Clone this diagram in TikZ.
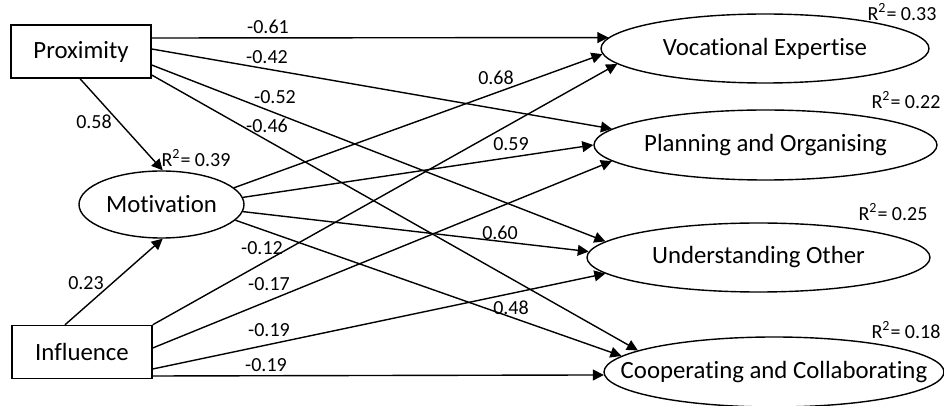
\documentclass[tikz,border=0pt]{standalone}
\usepackage{fontspec}
\setmainfont{Carlito}[Ligatures=NoCommon]
\usetikzlibrary{arrows.meta,shapes.geometric}

\begin{document}
\begin{tikzpicture}[x=0.5pt,y=-0.5pt,line width=0.7pt,
	box/.style={draw,rectangle,minimum width=70pt,minimum height=26.5pt,inner sep=0pt,font=\fontsize{12.4}{14}\selectfont},
	latent/.style={draw,ellipse,inner sep=0pt,font=\fontsize{12.4}{14}\selectfont},
	coef/.style={inner sep=0pt,font=\fontsize{10}{12}\selectfont},
	path/.style={-{Triangle[length=5.5pt,width=5.4pt]}}]
	\useasboundingbox (0,0) rectangle (944,406);
	% exogenous and mediator
	\node[box] (prox) at (81,51.5) {Proximity};
	\node[box] (infl) at (82,352) {Influence};
	\node[latent,minimum width=82.5pt,minimum height=33.5pt] (mot) at (161.5,204.5) {\makebox[0pt]{Motivation}};
	% outcomes
	\node[latent,minimum width=164pt,minimum height=34.5pt] (voc) at (765,48.5) {\makebox[0pt]{Vocational Expertise}};
	\node[latent,minimum width=171.5pt,minimum height=35pt] (plan) at (765.5,145) {\makebox[0pt]{Planning and Organising}};
	\node[latent,minimum width=171.5pt,minimum height=34.5pt] (und) at (758.5,257.5) {\makebox[0pt]{Understanding Other}};
	\node[latent,minimum width=170pt,minimum height=35pt] (coop) at (774,372) {\makebox[0pt]{Cooperating and Collaborating}};
	% paths
	\draw[path] ([shift={(0,-13.5)}]prox.east) -- (voc.176);
	\draw[path] ([shift={(0,-2.5)}]prox.east) -- (plan.174);
	\draw[path] ([shift={(0,13.5)}]prox.east) -- (und.174);
	\draw[path] ([shift={(0,23.5)}]prox.east) -- (coop.171.5);
	\draw[path] ([shift={(-1,0)}]prox.south) -- (mot.88);
	\draw[path] ([shift={(-17,0)}]infl.north) -- (mot.272);
	\draw[path] (mot.13) -- (voc.182);
	\draw[path] (mot.5) -- (plan.180);
	\draw[path] (mot.355) -- (und.178.5);
	\draw[path] (mot.348) -- (coop.174.8);
	\draw[path] (infl.north east) -- (voc.186.4);
	\draw[path] ([shift={(0,-4)}]infl.east) -- (plan.186);
	\draw[path] ([shift={(0,17)}]infl.east) -- (und.186.2);
	\draw[path] ([shift={(0,24)}]infl.east) -- (coop.181.3);
	% coefficients
	\node[coef] (c1) at (268,27) {-0.61};
	\node[coef] (c2) at (267,57) {-0.42};
	\node[coef] (c3) at (275,97) {-0.52};
	\node[coef] (c4) at (267,126) {-0.46};
	\node[coef] (c5) at (94,122) {0.58};
	\node[coef] (c6) at (86,283) {0.23};
	\node[coef] (c7) at (496,78) {0.68};
	\node[coef] (c8) at (511,144) {0.59};
	\node[coef] (c9) at (500,233) {0.60};
	\node[coef] (c10) at (511,308) {0.48};
	\node[coef] (c11) at (262,248) {-0.12};
	\node[coef] (c12) at (269,284) {-0.17};
	\node[coef] (c13) at (269,330) {-0.19};
	\node[coef] (c14) at (266,365) {-0.19};
	% explained variance
	\node[coef] (r1) at (196,158) {R\textsuperscript{2}= 0.39};
	\node[coef] (r2) at (902,12) {R\textsuperscript{2}= 0.33};
	\node[coef] (r3) at (906,100) {R\textsuperscript{2}= 0.22};
	\node[coef] (r4) at (893,212) {R\textsuperscript{2}= 0.25};
	\node[coef] (r5) at (906,330) {R\textsuperscript{2}= 0.18};
\end{tikzpicture}
\end{document}
